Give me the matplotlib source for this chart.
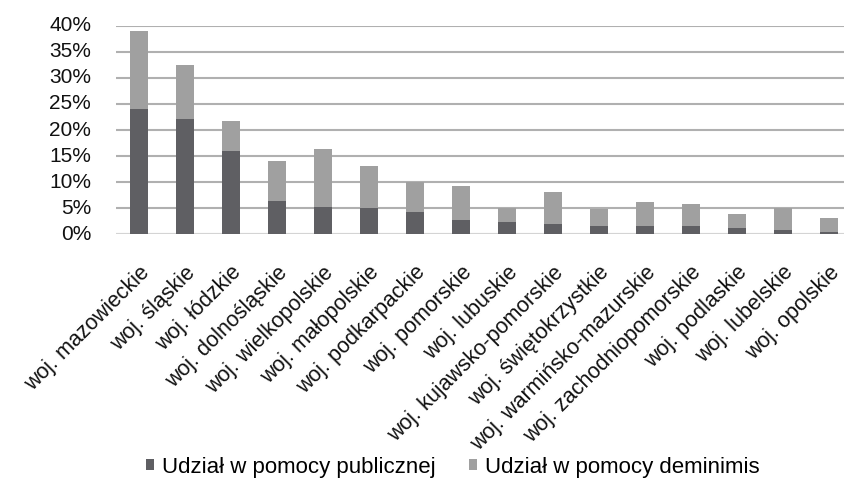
import matplotlib.pyplot as plt
import matplotlib.ticker as ticker
import numpy as np

plt.rcParams['font.family'] = ['Liberation Sans', 'DejaVu Sans']

regions = ['woj. mazowieckie', 'woj. śląskie', 'woj. łódzkie', 'woj. dolnośląskie',
           'woj. wielkopolskie', 'woj. małopolskie', 'woj. podkarpackie', 'woj. pomorskie',
           'woj. lubuskie', 'woj. kujawsko-pomorskie', 'woj. świętokrzystkie',
           'woj. warmińsko-mazurskie', 'woj. zachodniopomorskie', 'woj. podlaskie',
           'woj. lubelskie', 'woj. opolskie']
# shares (fractions)
public_share = [0.240, 0.221, 0.160, 0.064, 0.052, 0.050, 0.043, 0.027,
                0.024, 0.020, 0.016, 0.016, 0.016, 0.012, 0.008, 0.004]
total_share = [0.390, 0.325, 0.217, 0.141, 0.164, 0.131, 0.100, 0.093,
               0.050, 0.081, 0.048, 0.062, 0.058, 0.039, 0.050, 0.031]
deminimis_share = [t - p for t, p in zip(total_share, public_share)]

c_dark = '#5f5f63'
c_light = '#a0a0a0'

fig = plt.figure(figsize=(8.44, 4.79), dpi=100)
ax = fig.add_axes([116 / 844, 1 - 234.3 / 479, 1 - 116 / 844, 208.6 / 479])

x = np.arange(len(regions))
w = 0.39
ax.bar(x, public_share, w, color=c_dark, label='Udział w pomocy publicznej', zorder=3)
ax.bar(x, deminimis_share, w, bottom=public_share, color=c_light,
       label='Udział w pomocy deminimis', zorder=3)

ax.set_ylim(0, 0.40)
ax.set_xlim(-0.5, 15.33)
ax.yaxis.set_major_locator(ticker.MultipleLocator(0.05))
ax.yaxis.set_major_formatter(ticker.PercentFormatter(1.0, decimals=0))
ax.grid(axis='y', color='#b0b0b0', linewidth=1.5, zorder=0)
ax.axhline(0, color='#d9d9d9', linewidth=2, zorder=2)
for s in ax.spines.values():
    s.set_visible(False)
ax.tick_params(axis='both', length=0, colors='#111111')
ax.tick_params(axis='y', pad=18, labelsize=15)
for lbl in ax.get_yticklabels():
    lbl.set_verticalalignment('center')

ax.set_xticks(x)
ax.set_xticklabels(regions, rotation=45, ha='right', va='top',
                   rotation_mode='anchor', fontsize=15.5)
ax.tick_params(axis='x', pad=20)

fig.legend(loc='center', bbox_to_anchor=(0.536, 12 / 479), ncol=2, frameon=False,
           fontsize=16, handlelength=0.4, handleheight=0.4, handletextpad=0.32,
           columnspacing=1.5, borderpad=0)

plt.savefig('out.png', dpi=100)
